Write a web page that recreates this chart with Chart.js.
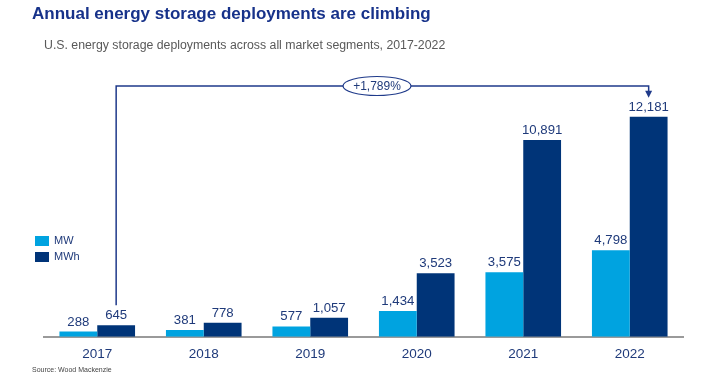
<!DOCTYPE html>
<html>
<head>
<meta charset="utf-8">
<script src="https://cdn.jsdelivr.net/npm/chart.js@4"></script>
<style>
  body { margin: 0; background: #fff; font-family: "Liberation Sans", Arial, sans-serif; }
  #wrap { position: relative; width: 720px; height: 380px; }
  #title { position: absolute; left: 32px; top: 4px; font-size: 17px; font-weight: bold; color: #17328a; }
  #subtitle { position: absolute; left: 44px; top: 38px; font-size: 12.3px; color: #595959; }
  #source { position: absolute; left: 32px; top: 366px; font-size: 7px; color: #444; }
  canvas { position: absolute; left: 0; top: 0; }
</style>
</head>
<body>
<div id="wrap">
  <canvas id="chart" width="720" height="380"></canvas>
  <div id="title">Annual energy storage deployments are climbing</div>
  <div id="subtitle">U.S. energy storage deployments across all market segments, 2017-2022</div>
  <div id="source">Source: Wood Mackenzie</div>
</div>
<script>
const years = ['2017', '2018', '2019', '2020', '2021', '2022'];
const mw = [288, 381, 577, 1434, 3575, 4798];
const mwh = [645, 778, 1057, 3523, 10891, 12181];
const growthLabel = '+1,789%';

const labelColor = '#1f3a7a';

// value labels above each bar
const valueLabels = {
  id: 'valueLabels',
  afterDatasetsDraw(chart) {
    const ctx = chart.ctx;
    ctx.save();
    ctx.font = '13.2px "Liberation Sans", Arial, sans-serif';
    ctx.fillStyle = labelColor;
    ctx.textAlign = 'center';
    ctx.textBaseline = 'bottom';
    chart.data.datasets.forEach((ds, i) => {
      chart.getDatasetMeta(i).data.forEach((bar, j) => {
        ctx.fillText(ds.data[j].toLocaleString('en-US'), bar.x, bar.y - 3);
      });
    });
    ctx.restore();
  },
};

// growth arrow from 2017 MWh to 2022 MWh
const growthArrow = {
  id: 'growthArrow',
  afterDraw(chart) {
    const ctx = chart.ctx;
    const meta = chart.getDatasetMeta(1);
    const first = meta.data[0];
    const last = meta.data[meta.data.length - 1];
    const topY = 86;
    ctx.save();
    ctx.strokeStyle = '#1f3a8a';
    ctx.lineWidth = 1.5;
    ctx.beginPath();
    ctx.moveTo(first.x, first.y - 20);
    ctx.lineTo(first.x, topY);
    ctx.lineTo(last.x, topY);
    ctx.lineTo(last.x, last.y - 24);
    ctx.stroke();
    // arrow head
    ctx.fillStyle = '#1f3a8a';
    ctx.beginPath();
    ctx.moveTo(last.x - 3.5, last.y - 26);
    ctx.lineTo(last.x + 3.5, last.y - 26);
    ctx.lineTo(last.x, last.y - 19);
    ctx.closePath();
    ctx.fill();
    // ellipse with label
    const cx = 377;
    ctx.fillStyle = '#fff';
    ctx.beginPath();
    ctx.ellipse(cx, topY, 34, 9.5, 0, 0, Math.PI * 2);
    ctx.fill();
    ctx.lineWidth = 1.2;
    ctx.stroke();
    ctx.fillStyle = labelColor;
    ctx.font = '12px "Liberation Sans", Arial, sans-serif';
    ctx.textAlign = 'center';
    ctx.textBaseline = 'middle';
    ctx.fillText(growthLabel, cx, topY + 1);
    ctx.restore();
  },
};

// legend at the left
const sideLegend = {
  id: 'sideLegend',
  afterDraw(chart) {
    const ctx = chart.ctx;
    ctx.save();
    ctx.font = '11px "Liberation Sans", Arial, sans-serif';
    ctx.textBaseline = 'middle';
    chart.data.datasets.forEach((ds, i) => {
      const y = 236 + i * 16;
      ctx.fillStyle = ds.backgroundColor;
      ctx.fillRect(35, y, 14, 10);
      ctx.fillStyle = '#1f3a7a';
      ctx.fillText(ds.label, 54, y + 5);
    });
    ctx.restore();
  },
};

new Chart(document.getElementById('chart'), {
  type: 'bar',
  data: {
    labels: years,
    datasets: [
      { label: 'MW', data: mw, backgroundColor: '#00a3e0' },
      { label: 'MWh', data: mwh, backgroundColor: '#003478' },
    ],
  },
  options: {
    responsive: false,
    animation: false,
    layout: { padding: { left: 44, right: 37, top: 102, bottom: 17 } },
    datasets: { bar: { categoryPercentage: 0.71, barPercentage: 1 } },
    plugins: { legend: { display: false }, tooltip: { enabled: false } },
    scales: {
      x: {
        grid: { display: false },
        border: { color: '#9a9a9a', width: 2 },
        ticks: { color: labelColor, font: { size: 13.5, family: '"Liberation Sans", Arial, sans-serif' }, padding: 1 },
      },
      y: { display: false, min: 0, max: 13000 },
    },
  },
  plugins: [valueLabels, growthArrow, sideLegend],
});
</script>
</body>
</html>
